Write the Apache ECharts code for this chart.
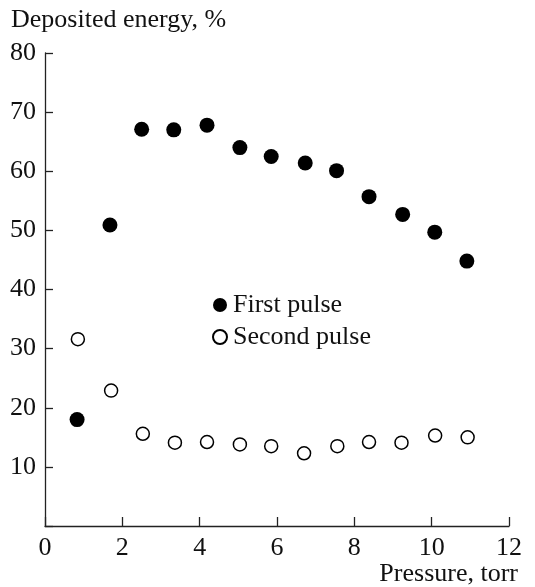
<!DOCTYPE html>
<html><head><meta charset="utf-8">
<script src="https://cdn.jsdelivr.net/npm/echarts@6/dist/echarts.min.js"></script>
<style>html,body{margin:0;padding:0;background:#fff}#c{width:535px;height:587px}</style>
</head><body><div id="c"></div>
<script>
var xFirst = [0.83, 1.68, 2.50, 3.33, 4.19, 5.04, 5.85, 6.73, 7.54, 8.38, 9.25, 10.08, 10.91];
var yFirst = [18.0, 50.9, 67.1, 67.0, 67.8, 64.0, 62.5, 61.4, 60.1, 55.7, 52.7, 49.7, 44.8];
var xSecond = [0.85, 1.71, 2.53, 3.36, 4.19, 5.04, 5.85, 6.70, 7.56, 8.38, 9.22, 10.09, 10.93];
var ySecond = [31.6, 22.9, 15.6, 14.1, 14.2, 13.8, 13.5, 12.3, 13.5, 14.2, 14.1, 15.3, 15.0];
var seriesNames = ['First pulse', 'Second pulse'];
var xTitle = 'Pressure, torr';
var yTitle = 'Deposited energy, %';

function pairs(xs, ys) { return xs.map(function (x, i) { return [x, ys[i]]; }); }
var FONT = '"Liberation Serif", "Times New Roman", serif';
var chart = echarts.init(document.getElementById('c'));
chart.setOption({
  animation: false,
  backgroundColor: '#fff',
  grid: { left: 45, right: 26, top: 53, bottom: 61 },
  xAxis: {
    type: 'value', min: 0, max: 12, interval: 2,
    axisLine: { show: true, lineStyle: { color: '#222', width: 1.3 } },
    axisTick: { show: true, inside: true, length: 9, lineStyle: { color: '#222', width: 1.3 } },
    axisLabel: { color: '#111', fontFamily: FONT, fontSize: 26, margin: 9 },
    splitLine: { show: false }
  },
  yAxis: {
    type: 'value', min: 0, max: 80, interval: 10,
    axisLine: { show: true, lineStyle: { color: '#222', width: 1.3 } },
    axisTick: { show: true, inside: true, length: 8, lineStyle: { color: '#222', width: 1.3 } },
    axisLabel: { color: '#111', fontFamily: FONT, fontSize: 26, margin: 9,
      formatter: function (v) { return v === 0 ? '' : v; } },
    splitLine: { show: false }
  },
  legend: {
    orient: 'vertical', left: 207, top: 287, itemGap: 6,
    itemWidth: 14, itemHeight: 14,
    textStyle: { color: '#111', fontFamily: FONT, fontSize: 26, padding: [0, 0, 0, 1] },
    data: [{ name: seriesNames[0], icon: 'circle' }, { name: seriesNames[1], icon: 'circle' }]
  },
  graphic: [
    { type: 'text', left: 11, top: 7, style: { text: yTitle, font: '26px ' + FONT, fill: '#111' } },
    { type: 'text', right: 17, top: 561, style: { text: xTitle, font: '26px ' + FONT, fill: '#111' } }
  ],
  series: [
    { name: seriesNames[0], type: 'scatter', symbol: 'circle', symbolSize: 15,
      itemStyle: { color: '#000', opacity: 1 }, data: pairs(xFirst, yFirst) },
    { name: seriesNames[1], type: 'scatter', symbol: 'circle', symbolSize: 13,
      itemStyle: { color: '#fff', borderColor: '#000', borderWidth: 1.5, opacity: 1 }, data: pairs(xSecond, ySecond) }
  ]
});
</script></body></html>
